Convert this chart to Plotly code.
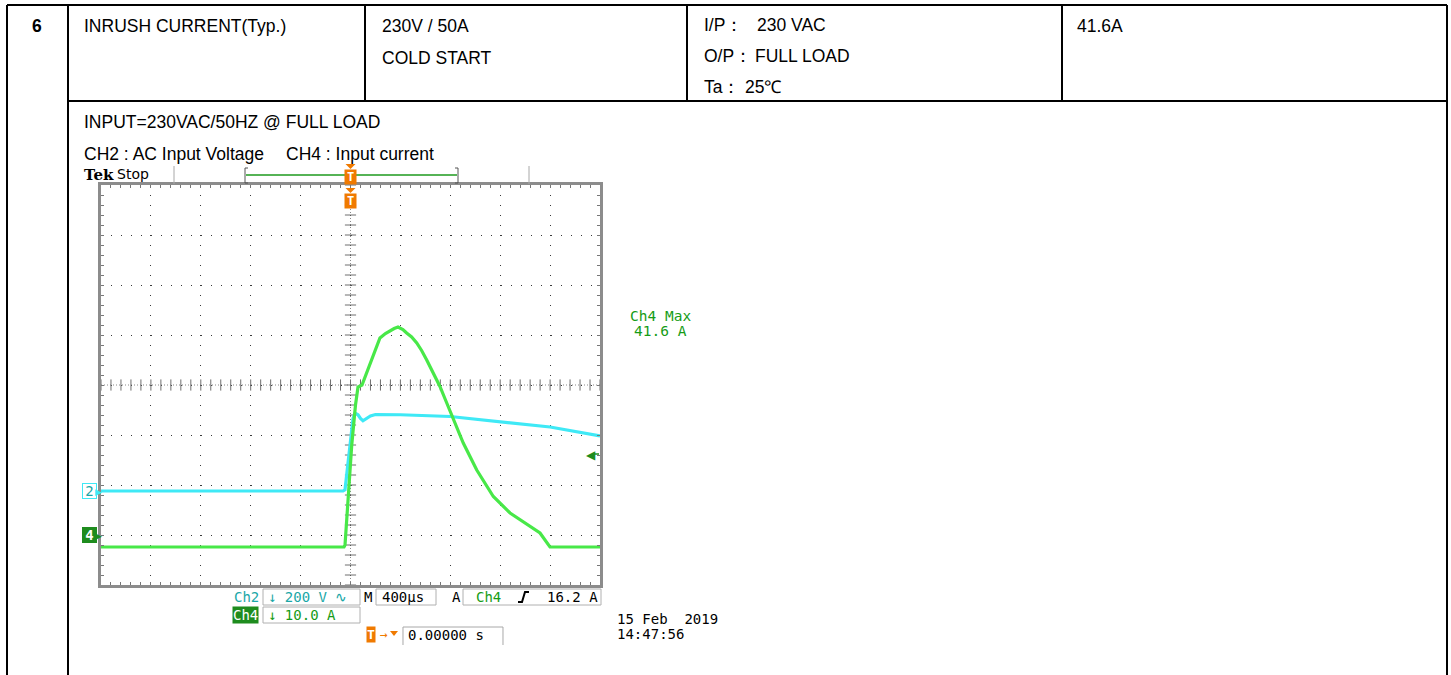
import numpy as np
import plotly.graph_objects as go

# ---------------------------------------------------------------- data
# Oscilloscope time base (trigger at t = 0), microseconds
TIME_PER_DIV_US = 400
N_HDIV, N_VDIV = 10, 8

# CH2 : AC input voltage, 200 V/div, ground marker at -2.12 div
CH2_V_PER_DIV = 200
CH2_GND_DIV = -2.12
ch2_time_us = [-2000, -60, -44, -20, 0, 20, 36, 60, 80, 100, 130, 160, 200,
               400, 800, 1200, 1600, 2000]
ch2_volts = [0, 0, 5, 100, 200, 290, 312, 305, 290, 281, 290, 300, 306,
             305, 298, 278, 256, 220]

# CH4 : input current, 10 A/div, ground marker at -3 div
CH4_A_PER_DIV = 10
CH4_GND_DIV = -3
ch4_time_us = [-2000, -52, -44, -18, 10, 40, 60, 92, 140, 180, 236, 280, 317,
               350, 381, 420, 450, 490, 531, 570, 611, 660, 717, 760, 811,
               904, 1012, 1145, 1279, 1412, 1519, 1599, 2000]
ch4_amps = [-2.4, -2.4, -2.0, 7, 18, 26, 29.6, 30.0, 33, 35.7, 39.4, 40.3,
            40.9, 41.3, 41.6, 41.1, 40.4, 39.6, 38.4, 36.9, 35, 32.6, 29.7,
            27.1, 24, 18.4, 13, 7.7, 4.4, 2.2, 0.4, -2.4, -2.4]

CH4_MAX_A = 41.6
TRIG_LEVEL_A = 16.2

# Table text
item_no = "6"
item_name = "INRUSH CURRENT(Typ.)"
spec_lines = ["230V / 50A", "COLD START"]
result = "41.6A"
cond_labels = ["I/P：", "O/P：", "Ta："]
cond_values = ["230 VAC", "FULL LOAD", "25℃"]
note_title = "INPUT=230VAC/50HZ @ FULL LOAD"
note_ch2 = "CH2 : AC Input Voltage"
note_ch4 = "CH4 : Input current"
scope_date = "15 Feb\u00a0 2019"
scope_clock = "14:47:56"

# ---------------------------------------------------------------- page
W, H = 1451, 675
SANS = "Liberation Sans, Arial, sans-serif"
MONO = "DejaVu Sans Mono, monospace"
TEAL = "#1aa7a7"
GREEN_TXT = "#169c16"
ORANGE = "#f07a00"
CYAN_TRACE = "#3fe9f6"
GREEN_TRACE = "#48e848"


def px(x):
    return x / W


def py(y):
    return 1 - y / H


annotations = []
shapes = []


def text(x, y, s, size=17.5, color="black", family=SANS, xanchor="left",
         **kw):
    annotations.append(dict(
        x=px(x), y=py(y), xref="paper", yref="paper", text=s,
        showarrow=False, xanchor=xanchor, yanchor="middle",
        font=dict(size=size, color=color, family=family), **kw))


def hline(x0, x1, y, color="black", width=2, dash=None):
    shapes.append(dict(type="line", xref="paper", yref="paper",
                       x0=px(x0), x1=px(x1), y0=py(y), y1=py(y),
                       line=dict(color=color, width=width, dash=dash)))


def vline(x, y0, y1, color="black", width=2):
    shapes.append(dict(type="line", xref="paper", yref="paper",
                       x0=px(x), x1=px(x), y0=py(y0), y1=py(y1),
                       line=dict(color=color, width=width)))


def box(x0, y0, x1, y1, color="#b0b0b0", fill=None, width=1):
    shapes.append(dict(type="rect", xref="paper", yref="paper",
                       x0=px(x0), x1=px(x1), y0=py(y1), y1=py(y0),
                       line=dict(color=color, width=width),
                       fillcolor=fill or "rgba(0,0,0,0)"))


def down_triangle(xc, ytop, half=5, h=6, color=ORANGE):
    shapes.append(dict(type="path", xref="paper", yref="paper",
                       path="M %f %f L %f %f L %f %f Z" % (
                           px(xc - half), py(ytop), px(xc + half), py(ytop),
                           px(xc), py(ytop + h)),
                       fillcolor=color, line=dict(color=color, width=0)))


# Table grid
hline(7, 1447, 5)
hline(68, 1447, 101)
for xv in (7, 68, 1447):
    vline(xv, 5, 675)
for xv in (365, 687, 1062):
    vline(xv, 5, 101)

# Table text
text(37, 26, "<b>%s</b>" % item_no, size=17.5, xanchor="center")
text(82, 26, item_name)
text(380, 26, spec_lines[0])
text(380, 58, spec_lines[1])
for i, (lab, val) in enumerate(zip(cond_labels, cond_values)):
    yy = 25 + 31 * i
    text(702, yy, lab)
    text([755, 753, 743][i], yy, val)
text(1075, 26, result)
text(82, 122, note_title)
text(82, 154, note_ch2)
text(284, 154, note_ch4)

# ---------------------------------------------------------------- scope
PLOT_X0, PLOT_X1 = 101, 600
PLOT_Y0, PLOT_Y1 = 185, 585
half_t = TIME_PER_DIV_US * N_HDIV / 2
x_mid = (PLOT_X0 + PLOT_X1) / 2

fig = go.Figure()

# Graticule centre cross with its tick marks
fig.add_trace(go.Scatter(
    x=np.arange(-half_t, half_t + 1, TIME_PER_DIV_US / 5),
    y=np.zeros(int(N_HDIV * 5) + 1), xaxis="x", yaxis="y", mode="markers",
    marker=dict(symbol="line-ns", size=8, line=dict(width=1, color="#6f6f6f")),
    hoverinfo="skip", showlegend=False))
fig.add_trace(go.Scatter(
    x=np.zeros(N_VDIV * 5 + 1),
    y=np.linspace(-N_VDIV / 2, N_VDIV / 2, N_VDIV * 5 + 1),
    xaxis="x", yaxis="y", mode="markers",
    marker=dict(symbol="line-ew", size=8, line=dict(width=1, color="#6f6f6f")),
    hoverinfo="skip", showlegend=False))

# Waveforms
fig.add_trace(go.Scatter(x=ch2_time_us, y=ch2_volts, xaxis="x", yaxis="y2",
                         mode="lines", line=dict(color=CYAN_TRACE, width=3.2),
                         name="CH2", showlegend=False))
fig.add_trace(go.Scatter(x=ch4_time_us, y=ch4_amps, xaxis="x", yaxis="y3",
                         mode="lines", line=dict(color=GREEN_TRACE, width=3.2),
                         name="CH4", showlegend=False))

shapes.append(dict(type="line", xref="x", yref="y", x0=0, x1=0,
                   y0=-N_VDIV / 2, y1=N_VDIV / 2,
                   line=dict(color="#8a8a8a", width=1, dash="1px,2px"),
                   layer="below"))
shapes.append(dict(type="line", xref="x", yref="y", x0=-half_t, x1=half_t,
                   y0=0, y1=0,
                   line=dict(color="#8a8a8a", width=1, dash="1px,2px"),
                   layer="below"))

axis_common = dict(
    showgrid=True, gridcolor="#3a3a3a", gridwidth=1, griddash="1px,9px",
    zeroline=False, showline=True, linecolor="#8c8c8c", linewidth=3,
    mirror="allticks", ticks="inside", ticklen=3, tickcolor="#777",
    showticklabels=False, fixedrange=True)

ch2_range = [(-N_VDIV / 2 - CH2_GND_DIV) * CH2_V_PER_DIV,
             (N_VDIV / 2 - CH2_GND_DIV) * CH2_V_PER_DIV]
ch4_range = [(-N_VDIV / 2 - CH4_GND_DIV) * CH4_A_PER_DIV,
             (N_VDIV / 2 - CH4_GND_DIV) * CH4_A_PER_DIV]
y_dom = [py(PLOT_Y1), py(PLOT_Y0)]

fig.update_layout(
    width=W, height=H, margin=dict(l=0, r=0, t=0, b=0),
    paper_bgcolor="white", plot_bgcolor="white", showlegend=False,
    xaxis=dict(domain=[px(PLOT_X0), px(PLOT_X1)], range=[-half_t, half_t],
               dtick=TIME_PER_DIV_US, tick0=0,
               minor=dict(dtick=TIME_PER_DIV_US / 5, ticks="inside",
                          ticklen=3, tickcolor="#777", showgrid=False),
               **axis_common),
    yaxis=dict(domain=y_dom, range=[-N_VDIV / 2, N_VDIV / 2], dtick=1,
               tick0=0,
               minor=dict(dtick=0.2, ticks="inside", ticklen=3,
                          tickcolor="#777", showgrid=False),
               **axis_common),
    yaxis2=dict(domain=y_dom, range=ch2_range, overlaying="y",
                visible=False, fixedrange=True),
    yaxis3=dict(domain=y_dom, range=ch4_range, overlaying="y",
                visible=False, fixedrange=True),
)

# Channel ground markers
annotations.append(dict(x=px(89), y=0, xref="paper", yref="y2", text="2",
                        showarrow=False, xanchor="center", yanchor="middle",
                        font=dict(size=14, color=TEAL, family=MONO),
                        bgcolor="white", bordercolor=CYAN_TRACE, borderwidth=1,
                        borderpad=0, width=13, height=14))
annotations.append(dict(x=px(98), y=0, xref="paper", yref="y2", text="▶",
                        showarrow=False, xanchor="center", yanchor="middle",
                        font=dict(size=9, color=CYAN_TRACE)))
annotations.append(dict(x=px(89), y=0, xref="paper", yref="y3", text="<b>4</b>",
                        showarrow=False, xanchor="center", yanchor="middle",
                        font=dict(size=14, color="white", family=MONO),
                        bgcolor="#1e8c1e", bordercolor="#1e8c1e",
                        borderwidth=1, borderpad=0, width=13, height=14))
annotations.append(dict(x=px(98), y=0, xref="paper", yref="y3", text="▶",
                        showarrow=False, xanchor="center", yanchor="middle",
                        font=dict(size=9, color="#1e8c1e")))

# Trigger level arrow (CH4)
annotations.append(dict(x=px(591), y=TRIG_LEVEL_A, xref="paper", yref="y3",
                        text="◀", showarrow=False, xanchor="center",
                        yanchor="middle", font=dict(size=12, color="#1e8c1e")))
shapes.append(dict(type="line", xref="paper", yref="y3", x0=px(593),
                   x1=px(599), y0=TRIG_LEVEL_A, y1=TRIG_LEVEL_A,
                   line=dict(color="#1e8c1e", width=1.5)))

# Trigger position markers (record bar and graticule top)
for yy, tri in ((177, 164), (201, 188)):
    down_triangle(x_mid, tri, half=5, h=5)
    annotations.append(dict(x=0, y=py(yy), xref="x", yref="paper",
                            text="<b>T</b>", showarrow=False,
                            xanchor="center", yanchor="middle",
                            font=dict(size=12, color="white", family=MONO),
                            bgcolor=ORANGE, borderpad=0, width=11, height=14))

# Record bar above the graticule
text(82, 175, "<b>Tek</b>", size=15, family="DejaVu Serif, Liberation Serif, serif")
text(115, 174, "Stop", size=14, family="DejaVu Sans, sans-serif")
vline(174, 166, 184, color="#a8a8a8", width=1)
vline(529, 166, 184, color="#a8a8a8", width=1)
hline(246, 457, 175, color="#1e9a1e", width=1.5)
for xb, d in ((245, 3), (458, -3)):
    vline(xb, 168, 183, color="#555", width=1)
    hline(xb, xb + d, 168, color="#555", width=1)
    hline(xb, xb + d, 183, color="#555", width=1)

# Measurement readout
text(660, 316, "Ch4 Max", size=14.5, color=GREEN_TXT, family=MONO,
     xanchor="center")
text(660, 331, "%.1f A" % CH4_MAX_A, size=14.5, color=GREEN_TXT, family=MONO,
     xanchor="center")

# Bottom status readouts
box(263, 589, 360, 605)
text(232, 597, "Ch2", size=14, color=TEAL, family=MONO)
text(266, 597, "↓ %d V ∿" % CH2_V_PER_DIV, size=14, color=TEAL, family=MONO)
text(362, 597, "M", size=14, family=MONO)
box(376, 589, 436, 605)
text(380, 597, "%dµs" % TIME_PER_DIV_US, size=14, family=MONO)
text(450, 597, "A", size=14, family=MONO)
box(463, 589, 601, 605)
text(474, 597, "Ch4", size=14, color=GREEN_TXT, family=MONO)
shapes.append(dict(type="path", xref="paper", yref="paper",
                   path="M %f %f L %f %f L %f %f L %f %f" % (
                       px(518), py(602), px(522), py(602),
                       px(525), py(592), px(529), py(592)),
                   line=dict(color="black", width=2)))
text(600, 597, "%.1f A" % TRIG_LEVEL_A, size=14, family=MONO, xanchor="right")

box(263, 607, 360, 623)
text(232, 615, "Ch4", size=14, color="white", family=MONO,
     bgcolor="#1e8c1e", borderpad=0)
text(266, 615, "↓ %.1f A" % CH4_A_PER_DIV, size=14, color=GREEN_TXT,
     family=MONO)

text(366, 634, "<b>T</b>", size=13, color="white", family=MONO,
     bgcolor=ORANGE, borderpad=0)
text(378, 634, "→", size=13, color=ORANGE, family=MONO)
down_triangle(394, 631, half=4, h=5)
shapes.append(dict(type="path", xref="paper", yref="paper",
                   path="M %f %f L %f %f L %f %f L %f %f" % (
                       px(403), py(645), px(403), py(627),
                       px(503), py(627), px(503), py(645)),
                   line=dict(color="#a8a8a8", width=1)))
text(406, 635, "0.00000 s", size=14, family=MONO)

text(615, 619, scope_date, size=14, family=MONO)
text(615, 634, scope_clock, size=14, family=MONO)

fig.update_layout(shapes=shapes, annotations=annotations)
fig.write_html("out.html")
